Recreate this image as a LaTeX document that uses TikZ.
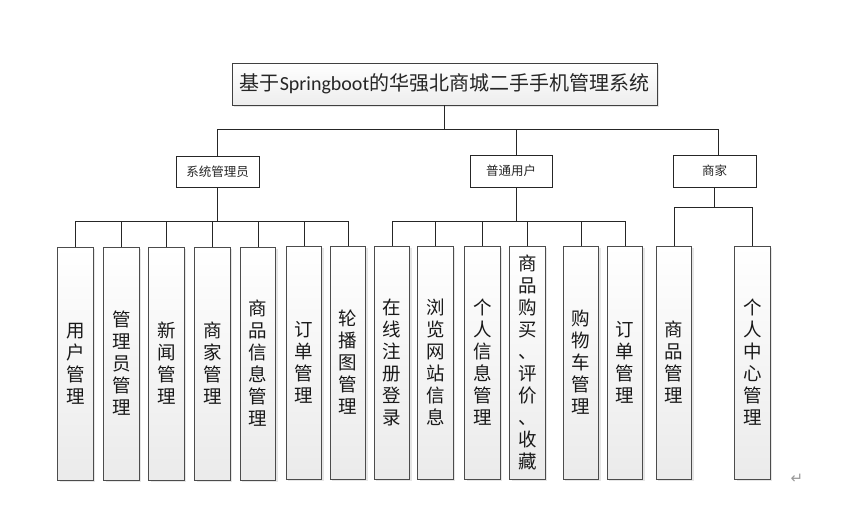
\documentclass[tikz,border=0pt]{standalone}
\usepackage{fontspec}
\newfontfamily\cjk{Noto Sans CJK SC}
\newfontfamily\calib{Carlito}
\newfontfamily\symb{DejaVu Sans}
\usetikzlibrary{shadows,calc}
\tikzset{
  topbox/.style={draw=black!75, line width=0.9pt, top color=white, bottom color=black!7,
                 drop shadow={opacity=0.2, shadow xshift=2pt, shadow yshift=-2pt},
                 minimum width=425pt, minimum height=42pt, inner sep=0pt,
                 text=black!85, font=\cjk\fontsize{20}{24}\selectfont},
  midbox/.style={draw=black!85, line width=0.9pt, fill=white, minimum width=83pt,
                 minimum height=31pt, inner sep=0pt, text=black!85,
                 font=\cjk\fontsize{12.5}{15}\selectfont},
  leaf/.style={draw=black!70, line width=0.9pt, top color=white, bottom color=black!8,
               drop shadow={opacity=0.2, shadow xshift=2pt, shadow yshift=-2pt},
               minimum width=35.5pt, minimum height=233pt, inner sep=0pt, align=center,
               text=black!90, font=\cjk\fontsize{18.5}{22}\selectfont},
  conn/.style={draw=black!85, line width=0.8pt}
}

\begin{document}
\begin{tikzpicture}[x=1pt, y=-1pt]
  \useasboundingbox (0,0) rectangle (865,504);

  \node[topbox] (root) at (444.5,84) {基于{\calib Springboot}的华强北商城二手手机管理系统};

  \node[midbox] (admin) at (217.5,171.5) {系统管理员};
  \node[midbox, minimum width=82pt, minimum height=32pt] (user) at (511,171) {普通用户};
  \node[midbox, minimum height=32pt] (merch) at (714.5,171) {商家};

  \node[leaf] (a1) at (75.5,363.5) {用\\户\\管\\理};
  \node[leaf] (a2) at (121.5,363.5) {管\\理\\员\\管\\理};
  \node[leaf] (a3) at (166.5,363.5) {新\\闻\\管\\理};
  \node[leaf] (a4) at (212.5,363.5) {商\\家\\管\\理};
  \node[leaf] (a5) at (258,363.5) {商\\品\\信\\息\\管\\理};
  \node[leaf] (a6) at (304,362.5) {订\\单\\管\\理};
  \node[leaf] (a7) at (348,362.5) {轮\\播\\图\\管\\理};

  \node[leaf] (u1) at (392,362.5) {在\\线\\注\\册\\登\\录};
  \node[leaf] (u2) at (435.5,362.5) {浏\\览\\网\\站\\信\\息};
  \node[leaf] (u3) at (482.5,362.5) {个\\人\\信\\息\\管\\理};
  \node[leaf] (u4) at (527.5,362.5) {商\\品\\购\\买\\、\\评\\价\\、\\收\\藏};
  \node[leaf] (u5) at (581,362.5) {购\\物\\车\\管\\理};
  \node[leaf] (u6) at (625,362.5) {订\\单\\管\\理};

  \node[leaf] (m1) at (674,362.5) {商\\品\\管\\理};
  \node[leaf] (m2) at (752.5,362.5) {个\\人\\中\\心\\管\\理};

  \node[text=black!40, font=\symb\fontsize{15}{17}\selectfont] (mark) at (797,479) {↵};

  \coordinate (bus0) at (0,129);
  \coordinate (bus1) at (0,221);
  \coordinate (bus2) at (0,207);
  \coordinate (uj) at (516.5,0);

  \draw[conn] (root.south) -- (root.south |- bus0);
  \draw[conn] (admin.north) |- ($(merch.north |- bus0)+(3.5,0)$) -- ($(merch.north)+(3.5,0)$);
  \draw[conn] (uj |- user.north) -- (uj |- bus0);

  \draw[conn] (admin.south) -- (admin.south |- bus1);
  \draw[conn] (a1.north) |- (a7.north |- bus1) -- (a7.north);
  \foreach \n in {a2,a3,a4,a5,a6}
    \draw[conn] (\n.north) -- (\n.north |- bus1);

  \draw[conn] (uj |- user.south) -- (uj |- bus1);
  \draw[conn] (u1.north) |- (u6.north |- bus1) -- (u6.north);
  \foreach \n in {u2,u3,u4,u5}
    \draw[conn] (\n.north) -- (\n.north |- bus1);

  \draw[conn] (merch.south) -- (merch.south |- bus2);
  \draw[conn] (m1.north) |- (m2.north |- bus2) -- (m2.north);
\end{tikzpicture}
\end{document}
